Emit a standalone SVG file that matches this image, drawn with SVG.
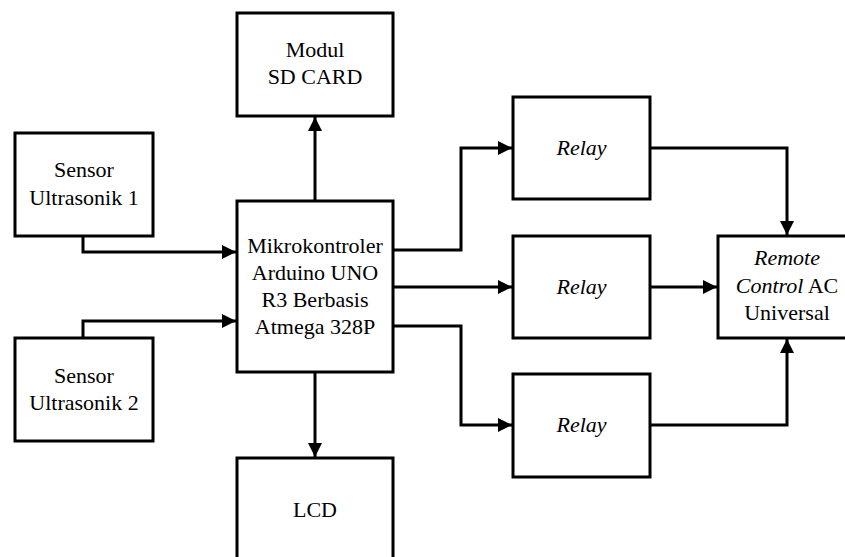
<svg xmlns="http://www.w3.org/2000/svg" width="845" height="557" viewBox="0 0 845 557">
<style>
.box{fill:#fff;stroke:#000;stroke-width:3}
.t{font-family:'Liberation Serif',Tinos,'DejaVu Serif',serif;font-size:22px;fill:#000;text-anchor:middle}
.i{font-style:italic}
.c{fill:none;stroke:#000;stroke-width:3}
</style>
<defs>
<marker id="ah" markerUnits="userSpaceOnUse" markerWidth="15" markerHeight="15" refX="14" refY="7" orient="auto">
<path d="M0,0 L14,7 L0,14 Z" fill="#000"/>
</marker>
</defs>
<rect width="845" height="557" fill="#fff"/>
<g id="connectors">
<polyline class="c" points="83,236 83,252 236,252" marker-end="url(#ah)"/>
<polyline class="c" points="83,338 83,321 236,321" marker-end="url(#ah)"/>
<polyline class="c" points="315,201 315,117" marker-end="url(#ah)"/>
<polyline class="c" points="315,372 315,457" marker-end="url(#ah)"/>
<polyline class="c" points="393,250 461,250 461,148 512,148" marker-end="url(#ah)"/>
<polyline class="c" points="393,287 512,287" marker-end="url(#ah)"/>
<polyline class="c" points="393,326 461,326 461,425 512,425" marker-end="url(#ah)"/>
<polyline class="c" points="650,148 787,148 787,235" marker-end="url(#ah)"/>
<polyline class="c" points="650,287 717,287" marker-end="url(#ah)"/>
<polyline class="c" points="650,425 787,425 787,339" marker-end="url(#ah)"/>
</g>
<g id="sensor1">
<rect class="box" x="15" y="133" width="138" height="103"/>
<text class="t" x="84" y="177" font-family="Liberation Serif, serif">Sensor</text>
<text class="t" x="84" y="204.5">Ultrasonik 1</text>
</g>
<g id="sensor2">
<rect class="box" x="15" y="338" width="138" height="103"/>
<text class="t" x="84" y="383">Sensor</text>
<text class="t" x="84" y="410">Ultrasonik 2</text>
</g>
<g id="sdcard">
<rect class="box" x="237" y="13" width="156" height="103"/>
<text class="t" x="315" y="56.5">Modul</text>
<text class="t" x="315" y="83.5">SD CARD</text>
</g>
<g id="mikrokontroler">
<rect class="box" x="237" y="201" width="156" height="171"/>
<text class="t" x="315" y="253">Mikrokontroler</text>
<text class="t" x="315" y="280">Arduino UNO</text>
<text class="t" x="315" y="307">R3 Berbasis</text>
<text class="t" x="315" y="334">Atmega 328P</text>
</g>
<g id="lcd">
<rect class="box" x="237" y="458" width="156" height="120"/>
<text class="t" x="315" y="516.5">LCD</text>
</g>
<g id="relay1">
<rect class="box" x="513" y="97" width="137" height="102"/>
<text class="t i" x="581.5" y="155">Relay</text>
</g>
<g id="relay2">
<rect class="box" x="513" y="236" width="137" height="102"/>
<text class="t i" x="581.5" y="294">Relay</text>
</g>
<g id="relay3">
<rect class="box" x="513" y="374" width="137" height="103"/>
<text class="t i" x="581.5" y="432">Relay</text>
</g>
<g id="remote">
<rect class="box" x="718" y="236" width="140" height="102"/>
<text class="t i" x="787" y="265">Remote</text>
<text class="t" x="787" y="293"><tspan class="i">Control</tspan> AC</text>
<text class="t" x="787" y="320">Universal</text>
</g>
</svg>
